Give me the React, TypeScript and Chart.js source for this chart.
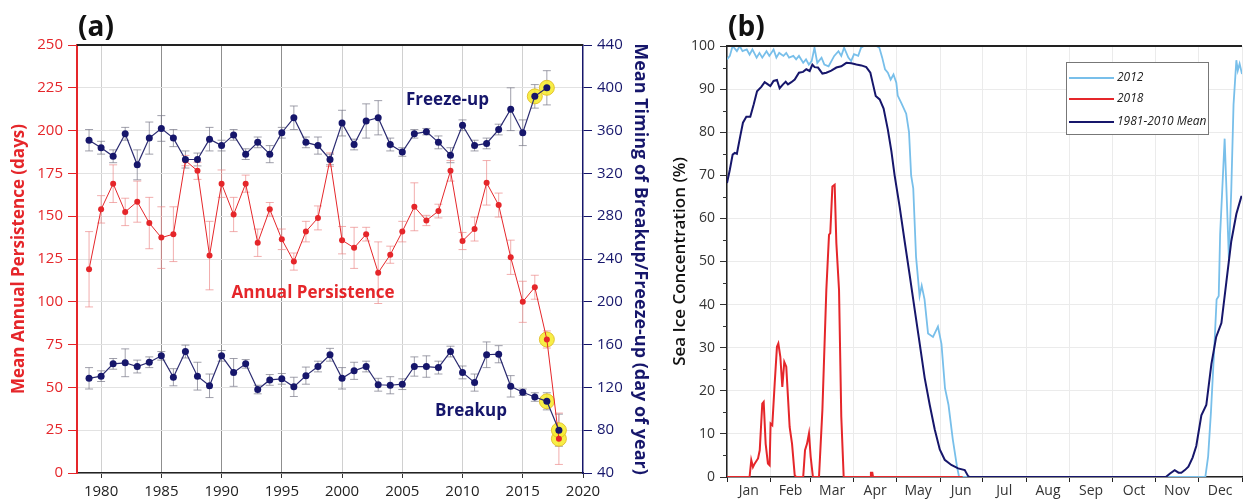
import React, { useEffect, useRef } from "react";
import { Chart, registerables } from "chart.js";

Chart.register(...registerables);
Chart.defaults.font.family = "'Open Sans', sans-serif";

// ---------- Panel (a) data ----------
const years = [
  1979, 1980, 1981, 1982, 1983, 1984, 1985, 1986, 1987, 1988,
  1989, 1990, 1991, 1992, 1993, 1994, 1995, 1996, 1997, 1998,
  1999, 2000, 2001, 2002, 2003, 2004, 2005, 2006, 2007, 2008,
  2009, 2010, 2011, 2012, 2013, 2014, 2015, 2016, 2017, 2018,
];
const freezeUp = [
  351, 344, 336, 357, 328, 353, 362, 353, 333, 333,
  352, 346, 356, 338, 349, 338, 358, 372, 349, 346,
  333, 367, 347, 369, 372, 347, 340, 357, 359, 349,
  337, 365, 346, 348, 361, 380, 358, 392, 400, null,
];
const freezeUpErr = [
  10, 6, 6, 6, 14, 15, 12, 8, 8, 6,
  11, 5, 5, 5, 5, 8, 5, 11, 5, 8,
  5, 12, 5, 16, 16, 6, 4, 4, 3, 6,
  7, 5, 5, 5, 5, 20, 12, 11, 16, null,
];
const breakup = [
  128.5, 130.5, 142, 143, 139.5, 143.5, 149.5, 129.5, 153.5, 130.5,
  121.5, 149.5, 134, 142, 118, 127, 128, 120.5, 131, 139.5,
  150.5, 128.5, 135.5, 139.5, 122.5, 122, 123, 139.5, 139.5, 138.5,
  153.5, 134, 124.5, 150.5, 151, 121, 115.5, 111, 107, 80,
];
const breakupErr = [
  10, 5, 5, 13, 6, 5, 4, 8, 6, 13,
  11, 5, 13, 4, 4, 5, 5, 9, 8, 5,
  6, 10, 8, 5, 6, 8, 5, 9, 10, 6,
  5, 6, 8, 12, 8, 10, 3, 4, 8, 15,
];
const persistence = [
  119, 154, 169, 152.5, 158.5, 146, 137.5, 139.5, 182.5, 176.5,
  127, 169, 151, 169, 134.5, 154, 136.5, 123.5, 141, 149,
  183, 136, 131.5, 139.5, 117, 127.5, 141, 155.5, 147.5, 153,
  176.5, 135.5, 142.5, 169.5, 156.5, 126, 100, 108.5, 78, 20,
];
const persistenceErr = [
  22, 8, 11, 8, 12, 15, 18, 16, 3, 5,
  20, 8, 10, 5, 8, 4, 6, 5, 6, 7,
  4, 8, 12, 4, 18, 5, 6, 14, 3, 4,
  6, 5, 7, 13, 7, 10, 12, 7, 5, 15,
];
const freezeUpHighlightYears = [2016, 2017];
const breakupHighlightYears = [2017, 2018];
const persistenceHighlightYears = [2017, 2018];
const xTickYears = [1980, 1985, 1990, 1995, 2000, 2005, 2010, 2015, 2020];

// ---------- Panel (b) data ----------
const monthNames = ["Jan", "Feb", "Mar", "Apr", "May", "Jun", "Jul", "Aug", "Sep", "Oct", "Nov", "Dec"];
const monthStarts = [0, 31, 59, 90, 120, 151, 181, 212, 243, 273, 304, 334, 365];

const days2012 = [
  0, 2, 4, 7, 9, 11, 14, 16, 18, 21, 23, 25, 28, 30, 33, 35, 37, 40, 42, 44,
  47, 49, 51, 54, 56, 58, 60, 62, 64, 67, 69, 72, 74, 76, 79, 81, 83, 86, 88, 90,
  93, 95, 97, 101, 106, 108, 110, 112, 114, 116, 118, 120, 121, 123.5, 127, 129, 130.5, 132, 134, 136.5,
  138, 140, 142.5, 146, 149.5, 152, 154.5, 157, 160, 163, 164.5, 339, 341, 343, 345.5, 347, 348.5, 349.5, 351, 352.7,
  354, 355.7, 357.4, 359, 361, 362, 363.3, 365,
];
const ice2012 = [
  96.9, 97.7, 100, 98.8, 100, 98.8, 99.2, 98, 99.2, 97.3, 98.4, 97.3, 98.8, 97.7, 99.2, 97.3, 98.4, 97.7, 98.4, 97.3,
  97.7, 96.9, 97.7, 96.1, 96.9, 95.7, 96.5, 99.6, 96.1, 97.3, 95.7, 95.3, 96.5, 97.7, 98.8, 97.7, 99.6, 97.3, 96.5, 98.1,
  97.7, 99.6, 100, 100, 100, 99.6, 97.3, 94.6, 93.8, 92.2, 93.4, 91.5, 88.5, 86.8, 84.3, 80, 70, 67, 51, 42,
  44.4, 41.2, 33.3, 32.5, 34.9, 30.9, 20.6, 16.7, 8.8, 2.4, 0, 0, 4.8, 15.1, 30.9, 41.2, 42, 56.3, 66.6, 78.5,
  66.6, 50.7, 66.6, 86.4, 96.7, 94.3, 95.9, 93.5,
];
const days2018 = [
  0, 16, 17.2, 18.4, 19.6, 22, 23.2, 25, 26, 27.4, 29, 30.2, 30.9, 32.1, 33.8, 35.4, 36.4, 37.8, 39.2, 40.6,
  42, 43.2, 44.4, 46.1, 48, 49, 54, 55.3, 56.7, 58.1, 59.3, 60.9, 65.2, 67.6, 70.4, 72.3, 73.2, 74.7, 76.3, 77.5,
  79.4, 81, 82.7, 101.5, 102, 103, 103.5, 167,
];
const ice2018 = [
  0, 0, 3.9, 2.3, 3.1, 4.3, 6.2, 17, 17.4, 7.7, 3.1, 2.7, 12.4, 12, 21.7, 30.2, 31, 27.9, 20.9, 26.7,
  25.6, 18.6, 11.6, 7.7, 0.4, 0, 0, 6.2, 7.7, 10.1, 4.7, 0, 0, 15.5, 43.4, 56.2, 56.6, 67.4, 67.8, 54.3,
  43.4, 14, 0, 0, 1, 1, 0, 0,
];
const daysMean = [
  0, 2, 4, 5.5, 7, 9.4, 11.3, 13.7, 16.5, 18.9, 21.3, 24.3, 26.7, 29, 30.7, 33, 35.4, 37.3, 39.7, 41.6,
  43.2, 45.6, 48, 51, 53.9, 56.2, 58.6, 60.5, 62.1, 64.5, 67.6, 70.4, 73.9, 77.5, 81, 84.6, 88.1, 91.7, 95.2, 98.7,
  101.6, 103.5, 105.4, 108.2, 111, 114, 116.5, 118.8, 122.4, 125.9, 129.5, 133, 136.6, 140.1, 143.7, 147.2, 150.8, 154.3, 159, 163.8,
  168.5, 170.9, 172, 311, 314, 317.3, 320, 322, 324.5, 327, 330, 332.6, 336.2, 339.7, 343.3, 346.7, 350.4, 353.9, 357.4, 361,
  364.5, 365,
];
const iceMean = [
  68.2, 71.3, 74.8, 75.2, 75, 79.1, 82.2, 83.6, 83.6, 86.4, 89.5, 90.5, 91.6, 91.1, 90.7, 91.9, 92.1, 90.2, 91.1, 91.7,
  91.1, 91.6, 92.2, 93.8, 94, 94.6, 94.2, 95.7, 95.1, 95, 93.6, 93.8, 94.3, 95, 95.3, 96.1, 96, 95.7, 95.5, 95.1,
  93.8, 91.1, 88.4, 87.6, 85.5, 80.6, 75.6, 70, 62.6, 54.7, 46.8, 38.9, 30.9, 23, 16.7, 11.1, 6.4, 4, 2.8, 2,
  1.6, 0.2, 0, 0, 0.8, 1.6, 1, 1, 1.6, 2.4, 4.5, 7.2, 14.3, 16.7, 26.2, 32.5, 35.7, 45.2, 54.7, 61,
  65, 65,
];

// ---------- colours ----------
const NAVY = "#16166b";
const NAVY_LINE = "#2a2a70";
const RED = "#e5262a";
const LIGHT_BLUE = "#78bfea";
const YELLOW = "rgba(246,236,50,0.9)";

const pts = (xs: number[], ys: (number | null)[]) => xs.map((x, i) => ({ x, y: ys[i] }));
const pick = (yrs: number[], vals: (number | null)[]) =>
  yrs.map((y) => ({ x: y, y: vals[years.indexOf(y)] }));

// ---------- plugins ----------
const errorBarPlugin = {
  id: "errorBars",
  beforeDatasetsDraw(chart: any) {
    const ctx = chart.ctx;
    const xs = chart.scales.x;
    chart.data.datasets.forEach((ds: any) => {
      if (!ds.errorBars) return;
      const ys = chart.scales[ds.yAxisID];
      ctx.save();
      ctx.strokeStyle = ds.errorColor;
      ctx.lineWidth = 1;
      ds.data.forEach((p: any, j: number) => {
        const e = ds.errorBars[j];
        if (p.y == null || e == null) return;
        const x = xs.getPixelForValue(p.x);
        const y1 = ys.getPixelForValue(p.y + e);
        const y2 = ys.getPixelForValue(p.y - e);
        ctx.beginPath();
        ctx.moveTo(x, y1);
        ctx.lineTo(x, y2);
        ctx.moveTo(x - 4, y1);
        ctx.lineTo(x + 4, y1);
        ctx.moveTo(x - 4, y2);
        ctx.lineTo(x + 4, y2);
        ctx.stroke();
      });
      ctx.restore();
    });
  },
};

const panelAText = {
  id: "panelAText",
  afterDraw(chart: any) {
    const ctx = chart.ctx;
    const { left, right, top } = chart.chartArea;
    const xs = chart.scales.x;
    const yl = chart.scales.yL;
    ctx.save();
    ctx.strokeStyle = "#222";
    ctx.lineWidth = 2;
    ctx.beginPath();
    ctx.moveTo(left, top);
    ctx.lineTo(right, top);
    ctx.stroke();
    ctx.fillStyle = "#111";
    ctx.font = "bold 28px 'Open Sans', sans-serif";
    ctx.textAlign = "left";
    ctx.textBaseline = "alphabetic";
    ctx.fillText("(a)", left + 1, top - 9);
    ctx.font = "bold 17px 'Open Sans', sans-serif";
    ctx.textAlign = "center";
    ctx.textBaseline = "middle";
    const labels = [
      { t: "Freeze-up", x: 2008.75, y: 218, c: NAVY },
      { t: "Annual Persistence", x: 1997.6, y: 105, c: RED },
      { t: "Breakup", x: 2010.7, y: 36.2, c: NAVY },
    ];
    labels.forEach((l) => {
      ctx.fillStyle = l.c;
      ctx.fillText(l.t, xs.getPixelForValue(l.x), yl.getPixelForValue(l.y));
    });
    ctx.restore();
  },
};

const panelBExtras = {
  id: "panelBExtras",
  afterDraw(chart: any) {
    const ctx = chart.ctx;
    const { left, right, top } = chart.chartArea;
    const ys = chart.scales.y;
    ctx.save();
    ctx.strokeStyle = "#222";
    ctx.lineWidth = 2;
    ctx.beginPath();
    ctx.moveTo(left, top);
    ctx.lineTo(right, top);
    ctx.stroke();
    // minor ticks
    ctx.lineWidth = 1;
    ctx.strokeStyle = "#333";
    for (let v = 5; v < 100; v += 10) {
      const y = Math.round(ys.getPixelForValue(v)) + 0.5;
      ctx.beginPath();
      ctx.moveTo(left - 4, y);
      ctx.lineTo(left, y);
      ctx.stroke();
    }
    // panel label
    ctx.fillStyle = "#111";
    ctx.font = "bold 28px 'Open Sans', sans-serif";
    ctx.textAlign = "left";
    ctx.fillText("(b)", left + 1, top - 10);
    // legend
    const bx = left + 339;
    const by = top + 16;
    ctx.fillStyle = "#fff";
    ctx.fillRect(bx, by, 142, 72);
    ctx.strokeStyle = "#777";
    ctx.strokeRect(bx + 0.5, by + 0.5, 142, 72);
    const items = [
      { t: "2012", c: LIGHT_BLUE, y: 16 },
      { t: "2018", c: RED, y: 37 },
      { t: "1981-2010 Mean", c: NAVY, y: 60 },
    ];
    ctx.font = "italic 12px 'Open Sans', sans-serif";
    ctx.textBaseline = "middle";
    items.forEach((it) => {
      ctx.strokeStyle = it.c;
      ctx.lineWidth = 2;
      ctx.beginPath();
      ctx.moveTo(bx + 3, by + it.y);
      ctx.lineTo(bx + 48, by + it.y);
      ctx.stroke();
      ctx.fillStyle = "#222";
      ctx.fillText(it.t, bx + 51, by + it.y);
    });
    ctx.restore();
  },
};

// ---------- component ----------
export default function App() {
  const refA = useRef<HTMLCanvasElement>(null);
  const refB = useRef<HTMLCanvasElement>(null);

  useEffect(() => {
    const navyPoint = {
      borderColor: NAVY_LINE,
      borderWidth: 1.2,
      pointRadius: 3.5,
      pointBackgroundColor: NAVY,
      pointBorderWidth: 0,
      errorColor: "rgba(120,120,135,0.7)",
      order: 1,
    };
    const highlight = {
      showLine: false,
      pointRadius: 7.5,
      pointBackgroundColor: YELLOW,
      pointBorderColor: "rgba(225,190,40,0.9)",
      pointBorderWidth: 1,
      order: 10,
    };
    const chartA = new Chart(refA.current as HTMLCanvasElement, {
      type: "line",
      data: {
        datasets: [
          { ...navyPoint, label: "Freeze-up", yAxisID: "yR", data: pts(years, freezeUp), errorBars: freezeUpErr } as any,
          { ...navyPoint, label: "Breakup", yAxisID: "yR", data: pts(years, breakup), errorBars: breakupErr } as any,
          {
            label: "Annual Persistence",
            yAxisID: "yL",
            data: pts(years, persistence),
            errorBars: persistenceErr,
            errorColor: "rgba(235,130,130,0.65)",
            borderColor: RED,
            borderWidth: 1,
            pointRadius: 3,
            pointBackgroundColor: RED,
            pointBorderWidth: 0,
            order: 2,
          } as any,
          { ...highlight, yAxisID: "yR", data: pick(freezeUpHighlightYears, freezeUp) } as any,
          { ...highlight, yAxisID: "yR", data: pick(breakupHighlightYears, breakup) } as any,
          { ...highlight, yAxisID: "yL", data: pick(persistenceHighlightYears, persistence) } as any,
        ],
      },
      options: {
        animation: false,
        responsive: false,
        spanGaps: false,
        layout: { padding: { top: 45, left: 0, right: 0, bottom: 0 } },
        plugins: { legend: { display: false }, tooltip: { enabled: false } },
        scales: {
          x: {
            type: "linear",
            min: 1978,
            max: 2020,
            afterBuildTicks: (axis: any) => {
              axis.ticks = xTickYears.map((v) => ({ value: v }));
            },
            afterFit: (axis: any) => {
              axis.height = 29;
            },
            ticks: { color: "#222", font: { size: 15 }, padding: 5, autoSkip: false, maxRotation: 0, callback: (v: any) => String(v) },
            grid: {
              color: (c: any) => {
                const v = c.tick && c.tick.value;
                if (v === 2020) return "rgba(0,0,0,0)";
                return v >= 1985 && v <= 1995 ? "#8f8f8f" : "#d0d0d0";
              },
              tickColor: "#333",
              tickLength: 5,
            },
            border: { color: "#222", width: 1.5 },
          },
          yL: {
            type: "linear",
            position: "left",
            min: 0,
            max: 250,
            afterFit: (axis: any) => {
              axis.width = 77;
            },
            ticks: { stepSize: 25, color: RED, font: { size: 15 }, padding: 5 },
            grid: { color: "#e2e2e2", tickColor: RED, tickLength: 9 },
            border: { color: RED, width: 2 },
            title: {
              display: true,
              text: "Mean Annual Persistence (days)",
              color: RED,
              font: { size: 17, weight: "bold" },
              padding: { top: 9, bottom: 0 },
            },
          },
          yR: {
            type: "linear",
            position: "right",
            min: 40,
            max: 440,
            afterFit: (axis: any) => {
              axis.width = 72;
            },
            ticks: { stepSize: 40, color: NAVY, font: { size: 15 }, padding: 5 },
            grid: { drawOnChartArea: false, tickColor: NAVY, tickLength: 9 },
            border: { color: NAVY, width: 1.5 },
            title: {
              display: true,
              text: "Mean Timing of Breakup/Freeze-up (day of year)",
              color: NAVY,
              font: { size: 18, weight: "bold" },
              padding: { top: 4, bottom: 0 },
            },
          },
        },
      } as any,
      plugins: [errorBarPlugin, panelAText],
    });

    const mids = monthNames.map((_, i) => (monthStarts[i] + monthStarts[i + 1]) / 2);
    const chartB = new Chart(refB.current as HTMLCanvasElement, {
      type: "line",
      data: {
        datasets: [
          { label: "2018", data: pts(days2018, ice2018), borderColor: RED, borderWidth: 2, pointRadius: 0, order: 0 },
          { label: "1981-2010 Mean", data: pts(daysMean, iceMean), borderColor: NAVY, borderWidth: 2, pointRadius: 0, order: 1 },
          { label: "2012", data: pts(days2012, ice2012), borderColor: LIGHT_BLUE, borderWidth: 1.8, pointRadius: 0, order: 2 },
        ],
      },
      options: {
        animation: false,
        responsive: false,
        layout: { padding: { top: 46, left: 0, right: 1, bottom: 0 } },
        plugins: { legend: { display: false }, tooltip: { enabled: false } },
        scales: {
          x: {
            type: "linear",
            min: 0,
            max: 365,
            afterBuildTicks: (axis: any) => {
              const all = [...monthStarts, ...mids].sort((a, b) => a - b);
              axis.ticks = all.map((v) => ({ value: v }));
            },
            afterFit: (axis: any) => {
              axis.height = 25;
            },
            ticks: {
              color: "#333",
              font: { size: 14 },
              padding: 1,
              autoSkip: false,
              maxRotation: 0,
              minRotation: 0,
              callback: (v: any) => {
                const i = mids.indexOf(v);
                return i >= 0 ? monthNames[i] : "";
              },
            },
            grid: {
              color: (c: any) => (c.tick && monthStarts.includes(c.tick.value) ? "#ebebeb" : "rgba(0,0,0,0)"),
              tickColor: (c: any) => (c.tick && monthStarts.includes(c.tick.value) ? "#222" : "rgba(0,0,0,0)"),
              tickLength: 5,
            },
            border: { color: "#222", width: 1.5 },
          },
          y: {
            type: "linear",
            min: 0,
            max: 100,
            afterFit: (axis: any) => {
              axis.width = 72;
            },
            ticks: { stepSize: 10, color: "#333", font: { size: 14 }, padding: 5 },
            grid: { color: "#ebebeb", tickColor: "#333", tickLength: 7 },
            border: { color: "#222", width: 1.5 },
            title: {
              display: true,
              text: "Sea Ice Concentration (%)",
              color: "#111",
              font: { size: 17, weight: "600" },
              padding: { top: 15, bottom: 0 },
            },
          },
        },
      } as any,
      plugins: [panelBExtras],
    });

    return () => {
      chartA.destroy();
      chartB.destroy();
    };
  }, []);

  return (
    <div style={{ position: "absolute", left: 0, top: 0, width: 1243, height: 502, background: "#fff" }}>
      <canvas ref={refA} width={655} height={502} style={{ position: "absolute", left: 0, top: 0 }} />
      <canvas ref={refB} width={588} height={502} style={{ position: "absolute", left: 655, top: 0 }} />
    </div>
  );
}
